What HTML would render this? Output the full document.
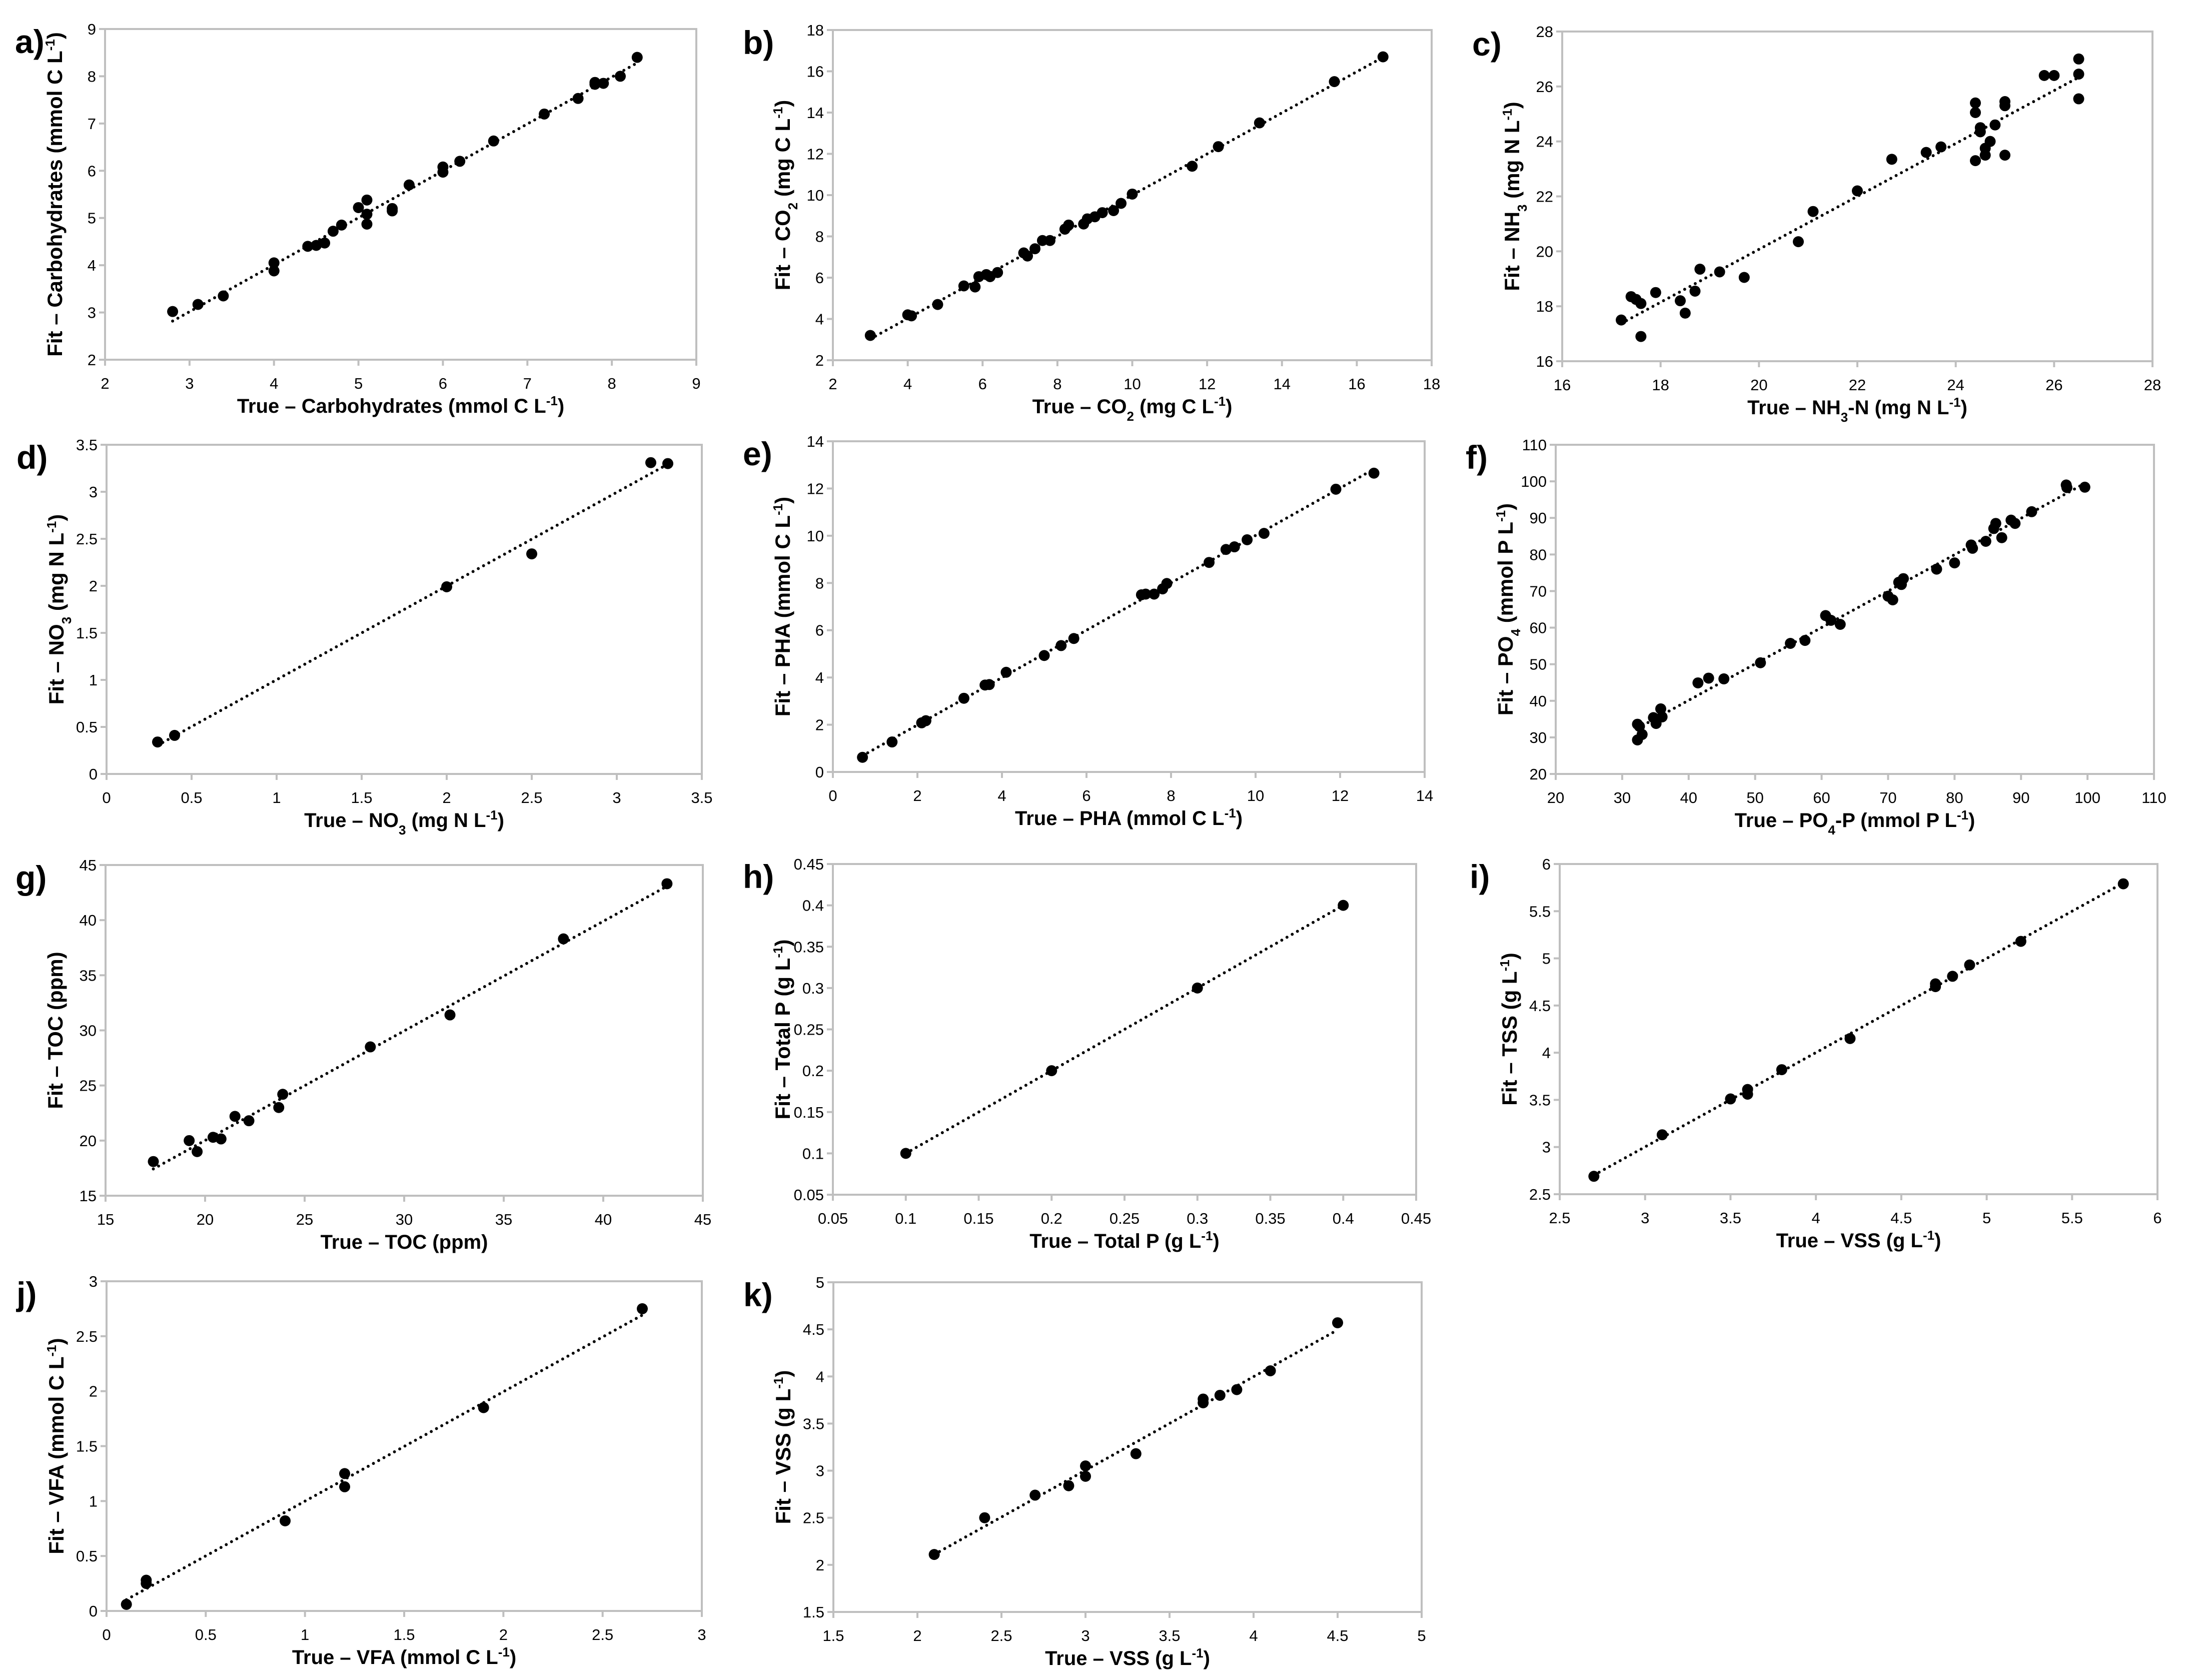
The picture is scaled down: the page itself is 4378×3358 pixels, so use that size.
<!DOCTYPE html>
<html><head><meta charset="utf-8"><style>
html,body{margin:0;padding:0;background:#fff}
svg{display:block}
.tick{font-family:"Liberation Sans Narrow","Liberation Sans",sans-serif;font-size:31px;fill:#000}
.ttl{font-family:"Liberation Sans Narrow","Liberation Sans",sans-serif;font-size:40px;font-weight:bold;fill:#000}
.ytl{font-size:42px}
.lbl{font-family:"Liberation Sans",sans-serif;font-size:66px;font-weight:bold;fill:#000}
</style></head><body>
<svg id="fig" width="4378" height="3358" viewBox="0 0 4378 3358" xmlns="http://www.w3.org/2000/svg"></svg>
<script>
// ---- data ----
const aX=[2.8,3.1,3.4,4.0,4.0,4.4,4.5,4.6,4.7,4.8,5.0,5.1,5.1,5.1,5.4,5.4,5.6,6.0,6.0,6.2,6.6,7.2,7.6,7.8,7.8,7.9,8.1,8.3];
const aY=[3.02,3.17,3.35,4.05,3.88,4.4,4.42,4.47,4.72,4.85,5.22,5.38,5.08,4.87,5.2,5.15,5.7,6.08,5.97,6.2,6.63,7.2,7.53,7.87,7.83,7.85,8.0,8.4];
const bX=[3,4,4.1,4.8,5.5,5.8,5.9,6.1,6.2,6.4,7.1,7.2,7.4,7.6,7.8,8.2,8.3,8.7,8.8,9.0,9.2,9.5,9.7,10.0,11.6,12.3,13.4,15.4,16.7];
const bY=[3.2,4.2,4.15,4.7,5.6,5.55,6.05,6.15,6.05,6.25,7.2,7.05,7.4,7.8,7.8,8.35,8.55,8.6,8.85,8.95,9.15,9.25,9.6,10.05,11.4,12.35,13.5,15.5,16.7];
const cX=[17.2,17.4,17.5,17.6,17.6,17.9,18.4,18.5,18.7,18.8,19.2,19.7,20.8,21.1,22.0,22.7,23.4,23.7,24.4,24.4,24.4,24.5,24.5,24.6,24.6,24.7,24.8,25.0,25.0,25.0,25.8,26.0,26.5,26.5,26.5];
const cY=[17.5,18.35,18.25,18.1,16.9,18.5,18.2,17.75,18.55,19.35,19.25,19.05,20.35,21.45,22.2,23.35,23.6,23.8,25.4,25.05,23.3,24.5,24.35,23.75,23.5,24.0,24.6,25.45,25.3,23.5,26.4,26.4,27.0,26.45,25.55];
const dX=[0.3,0.4,2.0,2.5,3.2,3.3];
const dY=[0.34,0.41,1.99,2.34,3.31,3.3];
const eX=[0.7,1.4,2.1,2.2,3.1,3.6,3.7,4.1,5.0,5.4,5.7,7.3,7.4,7.6,7.8,7.9,8.9,9.3,9.5,9.8,10.2,11.9,12.8];
const eY=[0.62,1.27,2.08,2.17,3.12,3.68,3.7,4.22,4.93,5.35,5.65,7.5,7.53,7.53,7.75,7.98,8.87,9.42,9.53,9.83,10.1,11.97,12.65];
const fX=[32.3,32.3,32.6,33.0,34.7,35.1,35.8,36.0,41.4,43.0,45.3,50.8,55.3,57.5,60.6,61.4,62.8,70.0,70.7,71.6,72.0,72.3,77.3,80.0,82.5,82.7,84.7,85.9,86.2,87.1,88.5,89.1,91.6,96.8,96.9,99.6];
const fY=[29.3,33.6,33.0,30.8,35.4,33.8,37.8,35.6,44.9,46.2,46.0,50.4,55.7,56.5,63.3,62.0,60.9,68.6,67.6,72.4,71.8,73.4,76.0,77.7,82.6,81.7,83.6,87.1,88.5,84.6,89.4,88.5,91.7,99.0,98.3,98.4];
const gX=[17.4,19.2,19.6,20.4,20.8,21.5,22.2,23.7,23.9,28.3,32.3,38.0,43.2];
const gY=[18.1,20.0,19.0,20.3,20.15,22.2,21.8,23.0,24.2,28.5,31.4,38.3,43.3];
const hX=[0.1,0.2,0.3,0.4];
const hY=[0.1,0.2,0.3,0.4];
const iX=[2.7,3.1,3.5,3.6,3.6,3.8,4.2,4.7,4.7,4.8,4.9,5.2,5.8];
const iY=[2.69,3.13,3.51,3.61,3.56,3.82,4.15,4.73,4.70,4.81,4.93,5.18,5.79];
const jX=[0.1,0.2,0.2,0.9,1.2,1.2,1.9,2.7];
const jY=[0.06,0.28,0.25,0.82,1.25,1.13,1.85,2.75];
const kX=[2.1,2.4,2.7,2.9,3.0,3.0,3.3,3.7,3.7,3.8,3.9,4.1,4.5];
const kY=[2.11,2.5,2.74,2.84,3.05,2.94,3.18,3.76,3.72,3.8,3.86,4.06,4.57];
// axis ranges [min,max,step]
const aXAxis=[2,9,1], aYAxis=[2,9,1];
const bXAxis=[2,18,2], bYAxis=[2,18,2];
const cXAxis=[16,28,2], cYAxis=[16,28,2];
const dXAxis=[0,3.5,0.5], dYAxis=[0,3.5,0.5];
const eXAxis=[0,14,2], eYAxis=[0,14,2];
const fXAxis=[20,110,10], fYAxis=[20,110,10];
const gXAxis=[15,45,5], gYAxis=[15,45,5];
const hXAxis=[0.05,0.45,0.05], hYAxis=[0.05,0.45,0.05];
const iXAxis=[2.5,6,0.5], iYAxis=[2.5,6,0.5];
const jXAxis=[0,3,0.5], jYAxis=[0,3,0.5];
const kXAxis=[1.5,5,0.5], kYAxis=[1.5,5,0.5];

const NS="http://www.w3.org/2000/svg";
const svg=document.getElementById('fig');
function mk(tag,attrs,parent){const e=document.createElementNS(NS,tag);for(const k in attrs)e.setAttribute(k,attrs[k]);(parent||svg).appendChild(e);return e;}
function rich(t,segs){segs.forEach(s=>{const ts=document.createElementNS(NS,'tspan');ts.textContent=s[0];if(s[1]==='sup'){ts.setAttribute('baseline-shift','super');ts.setAttribute('font-size','26');}else if(s[1]==='sub'){ts.setAttribute('baseline-shift','sub');ts.setAttribute('font-size','26');}t.appendChild(ts);});}
function fmt(v){return String(+v.toFixed(2));}

const panels=[
 {id:'a',box:[210,58,1392,719],X:aX,Y:aY,xa:aXAxis,ya:aYAxis,xt:[['True – Carbohydrates (mmol C L'],['-1','sup'],[')']],yt:[['Fit – Carbohydrates (mmol C L'],['-1','sup'],[')']]},
 {id:'b',box:[1665,60,2862,720],X:bX,Y:bY,xa:bXAxis,ya:bYAxis,xt:[['True – CO'],['2','sub'],[' (mg C L'],['-1','sup'],[')']],yt:[['Fit – CO'],['2','sub'],[' (mg C L'],['-1','sup'],[')']]},
 {id:'c',box:[3123,63,4303,722],X:cX,Y:cY,xa:cXAxis,ya:cYAxis,xt:[['True – NH'],['3','sub'],['-N (mg N L'],['-1','sup'],[')']],yt:[['Fit – NH'],['3','sub'],[' (mg N L'],['-1','sup'],[')']]},
 {id:'d',box:[213,889,1403,1547],X:dX,Y:dY,xa:dXAxis,ya:dYAxis,xt:[['True – NO'],['3','sub'],[' (mg N L'],['-1','sup'],[')']],yt:[['Fit – NO'],['3','sub'],[' (mg N L'],['-1','sup'],[')']]},
 {id:'e',box:[1665,882,2848,1543],X:eX,Y:eY,xa:eXAxis,ya:eYAxis,xt:[['True – PHA (mmol C L'],['-1','sup'],[')']],yt:[['Fit – PHA (mmol C L'],['-1','sup'],[')']]},
 {id:'f',box:[3110,889,4306,1547],X:fX,Y:fY,xa:fXAxis,ya:fYAxis,xt:[['True – PO'],['4','sub'],['-P (mmol P L'],['-1','sup'],[')']],yt:[['Fit – PO'],['4','sub'],[' (mmol P L'],['-1','sup'],[')']]},
 {id:'g',box:[211,1729,1405,2390],X:gX,Y:gY,xa:gXAxis,ya:gYAxis,xt:[['True – TOC (ppm)']],yt:[['Fit – TOC (ppm)']]},
 {id:'h',box:[1665,1727,2831,2388],X:hX,Y:hY,xa:hXAxis,ya:hYAxis,xt:[['True – Total P (g L'],['-1','sup'],[')']],yt:[['Fit – Total P (g L'],['-1','sup'],[')']]},
 {id:'i',box:[3118,1727,4313,2387],X:iX,Y:iY,xa:iXAxis,ya:iYAxis,xt:[['True – VSS (g L'],['-1','sup'],[')']],yt:[['Fit – TSS (g L'],['-1','sup'],[')']]},
 {id:'j',box:[213,2561,1403,3220],X:jX,Y:jY,xa:jXAxis,ya:jYAxis,xt:[['True – VFA (mmol C L'],['-1','sup'],[')']],yt:[['Fit – VFA (mmol C L'],['-1','sup'],[')']]},
 {id:'k',box:[1666,2563,2842,3222],X:kX,Y:kY,xa:kXAxis,ya:kYAxis,xt:[['True – VSS (g L'],['-1','sup'],[')']],yt:[['Fit – VSS (g L'],['-1','sup'],[')']]}
];

panels.forEach(p=>{
 const [L,T,R,B]=p.box;
 const g=mk('g',{});
 
 
 const sx=v=>L+(v-p.xa[0])/(p.xa[1]-p.xa[0])*(R-L);
 const sy=v=>B-(v-p.ya[0])/(p.ya[1]-p.ya[0])*(B-T);
 const frame=mk('rect',{x:L,y:T,width:R-L,height:B-T,fill:'none',stroke:'#bfbfbf','stroke-width':4},g);
 
 
 const nx=Math.round((p.xa[1]-p.xa[0])/p.xa[2]);
 for(let i=0;i<=nx;i++){const v=p.xa[0]+i*p.xa[2];const x=sx(v);
  mk('line',{x1:x,y1:B,x2:x,y2:B+12,stroke:'#bfbfbf','stroke-width':4},g);
  const t=mk('text',{x:x,y:B+58,'text-anchor':'middle',class:'tick'},g);t.textContent=fmt(v);
  
  }
 const ny=Math.round((p.ya[1]-p.ya[0])/p.ya[2]);
 for(let i=0;i<=ny;i++){const v=p.ya[0]+i*p.ya[2];const y=sy(v);
  mk('line',{x1:L-12,y1:y,x2:L,y2:y,stroke:'#bfbfbf','stroke-width':4},g);
  const t=mk('text',{x:L-18,y:y+11,'text-anchor':'end',class:'tick'},g);t.textContent=fmt(v);
  
  }
 const n=p.X.length;let mx=0,my=0;p.X.forEach((v,i)=>{mx+=v;my+=p.Y[i];});mx/=n;my/=n;
 let sxy=0,sxx=0;p.X.forEach((v,i)=>{sxy+=(v-mx)*(p.Y[i]-my);sxx+=(v-mx)*(v-mx);});
 const m=sxy/sxx,c=my-m*mx;const x0=Math.min(...p.X),x1=Math.max(...p.X);
 const tl=mk('line',{x1:sx(x0),y1:sy(m*x0+c),x2:sx(x1),y2:sy(m*x1+c),stroke:'#000','stroke-width':6,'stroke-dasharray':'0 12','stroke-linecap':'round'},g);
 
 
 p.X.forEach((v,i)=>{
  const pt=mk('circle',{cx:sx(v),cy:sy(p.Y[i]),r:11,fill:'#000'},g);
  
  
 });
 const xt=mk('text',{x:(L+R)/2,y:B+106,'text-anchor':'middle',class:'ttl'},g);rich(xt,p.xt);
 
 
 const yc=(T+B)/2,xc=L-86;
 const yt=mk('text',{x:xc,y:yc,'text-anchor':'middle',class:'ttl ytl',transform:'rotate(-90 '+xc+' '+yc+')'},g);rich(yt,p.yt);
 
 
 const lb=mk('text',{x:L-180,y:T+48,class:'lbl'},g);lb.textContent=p.id+')';
 
 
});
</script>
</body></html>
